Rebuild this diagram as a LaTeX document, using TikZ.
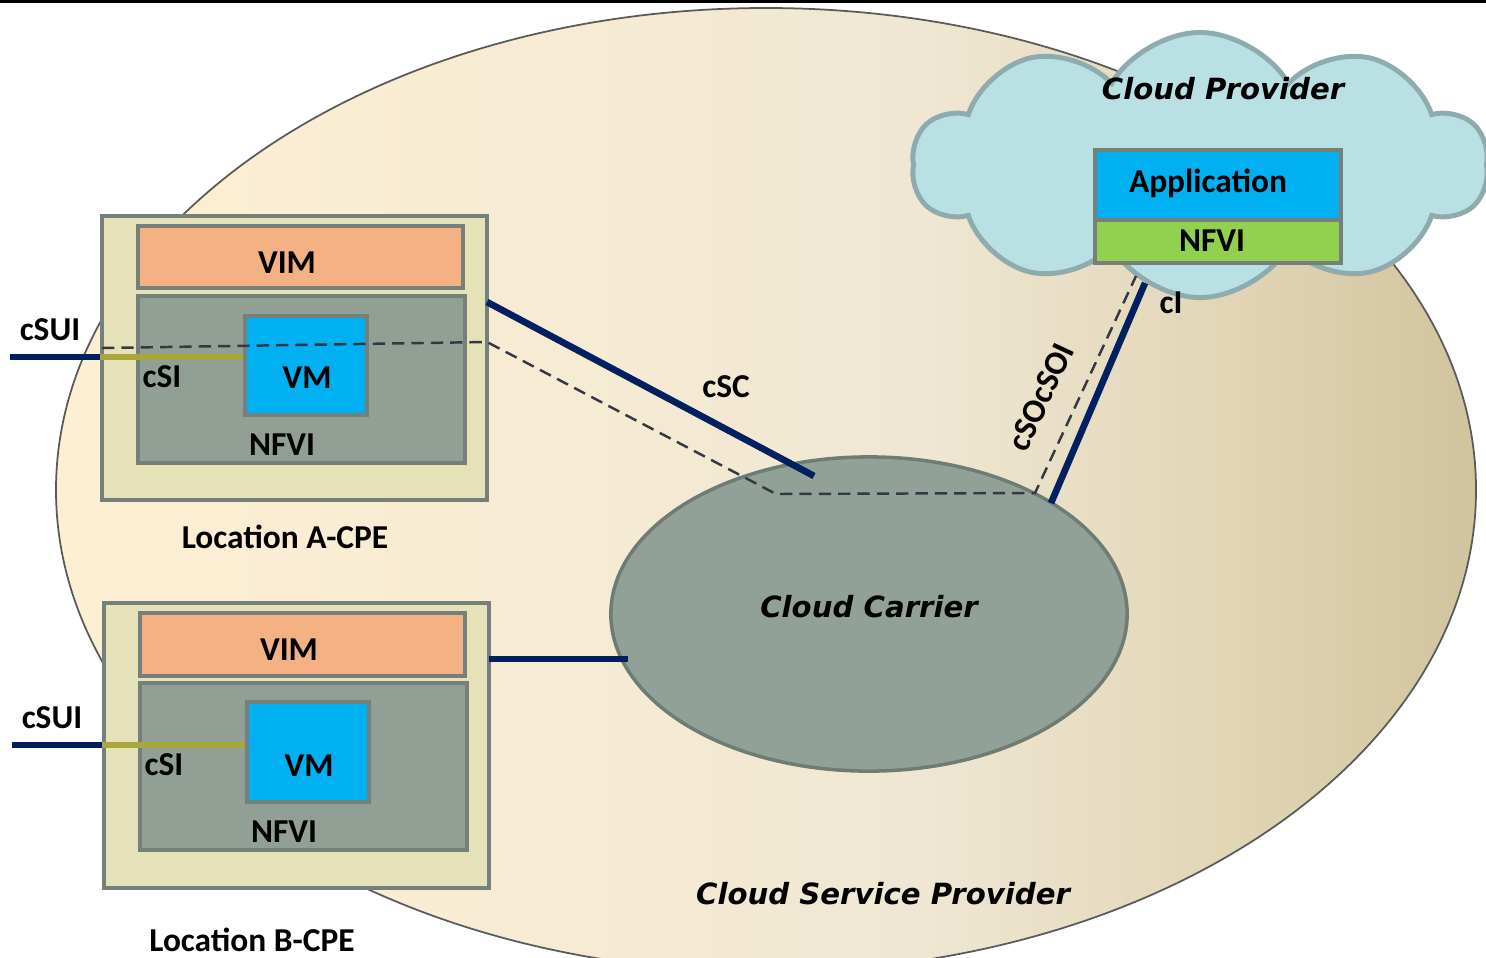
\documentclass[tikz,border=0pt]{standalone}
\usepackage{fontspec}
\setmainfont{Carlito}
\newfontfamily\verdfont{DejaVu Sans}
\usetikzlibrary{shapes.symbols,shapes.geometric,positioning,calc}
\definecolor{creamL}{HTML}{FDEFD3}
\definecolor{creamA}{HTML}{F6EBD3}
\definecolor{creamM}{HTML}{EFE7D3}
\definecolor{tanA}{HTML}{E2D6B7}
\definecolor{tanR}{HTML}{D1C39C}
\definecolor{outline}{HTML}{5A5A5A}
\definecolor{cpebg}{HTML}{E5E2BA}
\definecolor{edgegray}{HTML}{76807A}
\definecolor{vimorange}{HTML}{F4B183}
\definecolor{nfvigray}{HTML}{929F94}
\definecolor{vmblue}{HTML}{00B0F0}
\definecolor{nfvigreen}{HTML}{92D050}
\definecolor{cloudfill}{HTML}{B9E0E3}
\definecolor{cloudedge}{HTML}{8EABAE}
\definecolor{navy}{HTML}{002060}
\definecolor{csiolive}{HTML}{A9A63B}
\definecolor{dashgray}{HTML}{333844}
\definecolor{carrierfill}{HTML}{92A197}
\definecolor{carrieredge}{HTML}{6E7C74}
\pgfdeclarehorizontalshading{cspshade}{100bp}{color(0bp)=(creamL); color(25bp)=(creamL);
  color(43.5bp)=(creamA); color(55.5bp)=(creamM); color(66bp)=(tanA); color(75bp)=(tanR); color(100bp)=(tanR)}

\begin{document}
\begin{tikzpicture}[x=0.01cm,y=-0.01cm,
    every node/.style={font=\fontsize{9.5}{11}\selectfont\bfseries, inner sep=0pt},
    box/.style={draw=edgegray, line width=1.2pt},
    link/.style={draw=navy, line width=1.9pt},
    csi/.style={draw=csiolive, line width=1.9pt},
    tunnel/.style={draw=dashgray, line width=0.7pt, dash pattern=on 3.5pt off 2pt},
    title/.style={font=\verdfont\fontsize{8.3}{10}\selectfont\bfseries\itshape}]
  \useasboundingbox (0,0) rectangle (1486,957);
  \fill[black] (0,0) rectangle (1486,3);
  % cloud service provider
  \shade[shading=cspshade, draw=outline, line width=0.5pt] (766,490) ellipse (710 and 482);
  % cloud provider
  \node[cloud, cloud puffs=10, cloud puff arc=120, aspect=2.2, cloud ignores aspect,
    draw=cloudedge, fill=cloudfill, line width=1.4pt,
    minimum width=5.75cm, minimum height=2.65cm] (prov) at (1200,165) {};
  \node[box, fill=vmblue, minimum width=2.46cm, minimum height=0.7cm] (app) at (1218,185) {};
  \node[box, fill=nfvigreen, minimum width=2.46cm, minimum height=0.43cm] (nfviC) at (1218,241.5) {};
  \node (appT) at (1208,183) {Application};
  \node (nfviCT) at (1212,241) {NFVI};
  \node[title] (provT) at (1223,89) {Cloud Provider};

  % location A
  \node[box, fill=cpebg, minimum width=3.85cm, minimum height=2.84cm] (cpeA) at (294.5,358) {};
  \node[box, fill=vimorange, minimum width=3.25cm, minimum height=0.62cm] (vimA) at (300.5,257) {};
  \node[box, fill=nfvigray, minimum width=3.27cm, minimum height=1.67cm] (nfviA) at (301.5,379.5) {};
  \node[box, fill=vmblue, minimum width=1.22cm, minimum height=0.99cm] (vmA) at (306,365.5) {};
  \node (vimAT) at (287,263) {VIM};
  \node (vmAT) at (307,378) {VM};
  \node (nfviAT) at (282,445) {NFVI};
  \node (locA) at (285,537) {Location A-CPE};

  % location B
  \node[box, fill=cpebg, minimum width=3.85cm, minimum height=2.85cm] (cpeB) at (296.5,745.5) {};
  \node[box, fill=vimorange, minimum width=3.25cm, minimum height=0.63cm] (vimB) at (302.5,644.5) {};
  \node[box, fill=nfvigray, minimum width=3.27cm, minimum height=1.67cm] (nfviB) at (303.5,766.5) {};
  \node[box, fill=vmblue, minimum width=1.22cm, minimum height=1cm] (vmB) at (308,752) {};
  \node (vimBT) at (289,650) {VIM};
  \node (vmBT) at (309,766) {VM};
  \node (nfviBT) at (284,832) {NFVI};
  \node (locB) at (252,940) {Location B-CPE};

  % cloud carrier
  \node[ellipse, draw=carrieredge, fill=carrierfill, line width=1pt,
    minimum width=5.16cm, minimum height=3.14cm] (carrier) at (869,614) {};
  \node[title] (carrierT) at (869,607) {Cloud Carrier};
  \node[title] (cspT) at (883,894) {Cloud Service Provider};

  % interfaces
  \coordinate (suiA) at (10,357);
  \coordinate (suiB) at (12,745);
  \draw[link] (suiA) -- (cpeA.west |- suiA);
  \draw[csi] (cpeA.west |- suiA) -- (vmA.west |- suiA);
  \draw[link] (suiB) -- (cpeB.west |- suiB);
  \draw[csi] (cpeB.west |- suiB) -- (vmB.west |- suiB);
  \coordinate (cscA) at (487,302);
  \coordinate (cscC) at (814,476);
  \draw[link] (cscA) -- (cscC);
  \coordinate (linkB) at (489,659);
  \coordinate (linkC) at (628,659);
  \draw[link] (linkB) -- (linkC);
  \coordinate (ciP) at (1145,283);
  \coordinate (ciC) at (1051,503);
  \draw[link] (ciP) -- (ciC);
  \coordinate (t1) at (102,348);
  \coordinate (t2) at (487,342);
  \coordinate (t3) at (776,494);
  \coordinate (t4) at (1035,493);
  \coordinate (t5) at (1136,276);
  \draw[tunnel] (t1) -- (t2) -- (t3) -- (t4) -- (t5);

  \node (suiAT) at (50,330) {cSUI};
  \node (suiBT) at (52,718) {cSUI};
  \node (csiAT) at (162,377) {cSI};
  \node (csiBT) at (164,765) {cSI};
  \node (cscT) at (726,387) {cSC};
  \node (ciT) at (1171,303) {cI};
  \node[rotate=65] (csoT) at (1041,397) {cSOcSOI};
\end{tikzpicture}
\end{document}
